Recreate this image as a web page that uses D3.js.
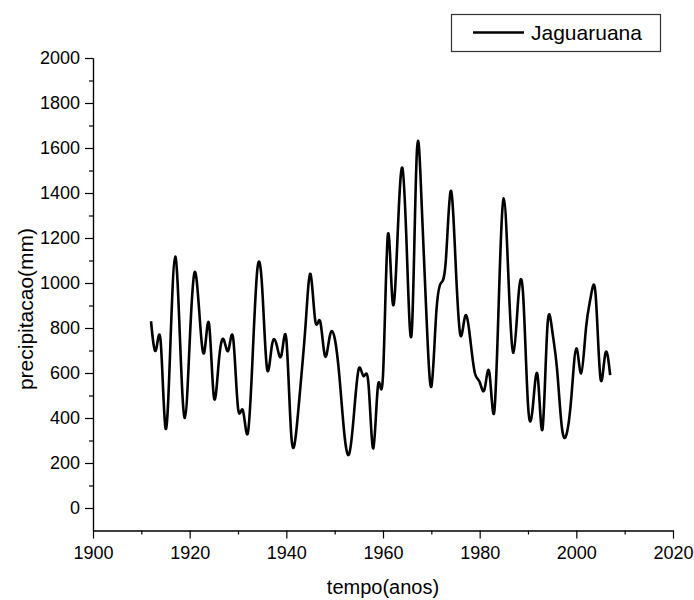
<!DOCTYPE html>
<html>
<head>
<meta charset="utf-8">
<script src="https://cdn.jsdelivr.net/npm/d3@7"></script>
<style>
  body { margin: 0; background: #fff; }
  svg { font-family: "Liberation Sans", Arial, sans-serif; }
  .axis path, .axis line { stroke: #000; stroke-width: 1.2px; }
  .axis text { font-size: 18px; fill: #000; }
</style>
</head>
<body>
<script>
// dados (precipitacao anual, mm)
const anos = d3.range(1912, 2008);
const precip = [
  830, 700, 740, 355, 720, 1117, 750, 400, 735, 1047,
  868, 690, 820, 495, 644, 750, 700, 755, 445, 435,
  330, 660, 1060, 980, 620, 720, 725, 680, 750, 330,
  330, 560, 820, 1040, 830, 830, 675, 765, 755, 580,
  330, 240, 420, 620, 585, 550, 265, 550, 590, 1213,
  913, 1200, 1512, 1100, 800, 1580, 1350, 850, 539, 860,
  1000, 1100, 1409, 1100, 769, 853, 760, 600, 560, 527,
  603, 424, 950, 1376, 1000, 690, 935, 945, 460, 450,
  587, 350, 800, 790, 620, 360, 330, 500, 710, 598,
  800, 940, 945, 575, 687, 591
];
const xTicks = d3.range(1900, 2021, 20);
const xMinor = d3.range(1910, 2020, 20);
const yTicks = d3.range(0, 2001, 200);
const yMinor = d3.range(100, 2000, 200);
const serie = "Jaguaruana";

const W = 694, H = 600;
const svg = d3.select("body").append("svg")
  .attr("width", W)
  .attr("height", H);

const x = d3.scaleLinear().domain([1900, 2020]).range([93, 673]);
const y = d3.scaleLinear().domain([-100, 2000]).range([530.5, 58]);

// eixo x
svg.append("g")
  .attr("class", "axis")
  .attr("transform", "translate(0," + y(-100) + ")")
  .call(d3.axisBottom(x).tickValues(xMinor).tickSize(4).tickSizeOuter(0).tickFormat(""));
svg.append("g")
  .attr("class", "axis")
  .attr("transform", "translate(0," + y(-100) + ")")
  .call(d3.axisBottom(x).tickValues(xTicks).tickSize(8).tickPadding(8).tickSizeOuter(0).tickFormat(d3.format("d")));

// eixo y
svg.append("g")
  .attr("class", "axis")
  .attr("transform", "translate(" + x(1900) + ",0)")
  .call(d3.axisLeft(y).tickValues(yMinor).tickSize(4).tickSizeOuter(0).tickFormat(""));
svg.append("g")
  .attr("class", "axis")
  .attr("transform", "translate(" + x(1900) + ",0)")
  .call(d3.axisLeft(y).tickValues(yTicks).tickSize(8).tickPadding(5).tickSizeOuter(0).tickFormat(d3.format("d")));

// linha
const linha = d3.line()
  .x((d, i) => x(anos[i]))
  .y(d => y(d))
  .curve(d3.curveNatural);

svg.append("path")
  .datum(precip)
  .attr("fill", "none")
  .attr("stroke", "#000")
  .attr("stroke-width", 2.6)
  .attr("stroke-linejoin", "round")
  .attr("d", linha);

// titulos
svg.append("text")
  .attr("x", 383)
  .attr("y", 594)
  .attr("text-anchor", "middle")
  .style("font-size", "20px")
  .text("tempo(anos)");

svg.append("text")
  .attr("transform", "translate(33,309) rotate(-90)")
  .attr("text-anchor", "middle")
  .style("font-size", "21px")
  .text("precipitacao(mm)");

// legenda
const leg = svg.append("g");
leg.append("rect")
  .attr("x", 451.5).attr("y", 14.5)
  .attr("width", 209).attr("height", 37)
  .attr("fill", "#fff")
  .attr("stroke", "#333")
  .attr("stroke-width", 1.2);
leg.append("line")
  .attr("x1", 473).attr("x2", 524)
  .attr("y1", 32.5).attr("y2", 32.5)
  .attr("stroke", "#000")
  .attr("stroke-width", 2.6);
leg.append("text")
  .attr("x", 531)
  .attr("y", 40)
  .style("font-size", "21px")
  .text(serie);
</script>
</body>
</html>
